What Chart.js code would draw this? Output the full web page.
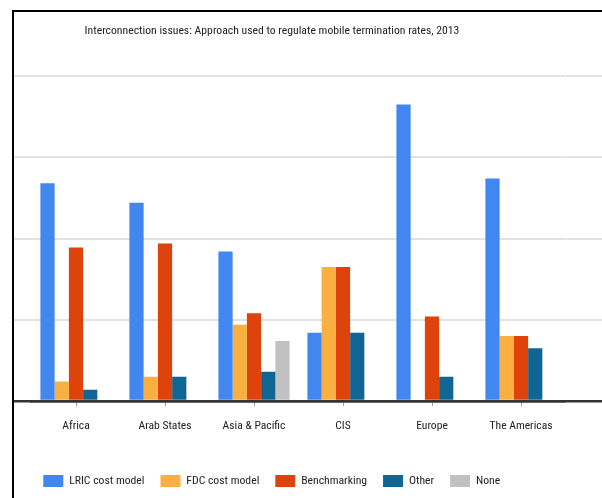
<!DOCTYPE html>
<html>
<head>
<meta charset="utf-8">
<script src="https://cdn.jsdelivr.net/npm/chart.js@4/dist/chart.umd.min.js"></script>
<style>
  html, body { margin: 0; padding: 0; background: #fff; }
  #wrap { position: relative; width: 602px; height: 498px; }
</style>
</head>
<body>
<div id="wrap"><canvas id="myChart"></canvas></div>
<script>
const FONT = "'Roboto Condensed', 'Liberation Sans Narrow', sans-serif";

const chartTitle = 'Interconnection issues: Approach used to regulate mobile termination rates, 2013';
const categories = ['Africa', 'Arab States', 'Asia & Pacific', 'CIS', 'Europe', 'The Americas'];
const seriesNames = ['LRIC cost model', 'FDC cost model', 'Benchmarking', 'Other', 'None'];
const lricValues = [26.8, 24.4, 18.4, 8.4, 36.5, 27.4];
const fdcValues = [2.4, 3.0, 9.4, 16.5, 0, 8.0];
const benchValues = [18.9, 19.4, 10.8, 16.5, 10.4, 8.0];
const otherValues = [1.4, 3.0, 3.6, 8.4, 3.0, 6.5];
const noneValues = [0, 0, 7.4, 0, 0, 0];
const yTicks = [0, 10, 20, 30, 40];

const colors = ['#4286f0', '#f9b041', '#de430c', '#0f6695', '#c1c1c1'];
const allValues = [lricValues, fdcValues, benchValues, otherValues, noneValues];

// gridline look, shared by the left and right y axes (their tick marks stretch the lines to the frame / edge)
const gridColor = (c) => c.tick && c.tick.value === 0 ? '#333' : '#e2e2e2';
const gridWidth = (c) => c.tick && c.tick.value === 0 ? 2.5 : 2;

// title + black frame are drawn by hand, the title is not centred on the canvas
const extrasPlugin = {
    id: 'extras',
    afterLayout(chart) {
        // legend sits a bit right of the frame in the original
        chart.legend.left += 13.3;
    },
    afterDraw(chart) {
        const ctx = chart.ctx;
        ctx.save();
        ctx.fillStyle = '#000';
        ctx.fillRect(12, 10, 2, chart.height - 10);   // left frame line
        ctx.fillRect(12, 10, chart.width - 12, 2);    // top frame line
        ctx.font = '11.7px ' + FONT;
        ctx.fillStyle = '#222';
        ctx.textAlign = 'center';
        ctx.textBaseline = 'middle';
        ctx.fillText(chartTitle, 272, 31);
        ctx.restore();
    }
};

const ctx = document.getElementById('myChart');

new Chart(ctx, {
    type: 'bar',
    data: {
        labels: categories,
        datasets: seriesNames.map((name, i) => ({
            label: name,
            data: allValues[i],
            backgroundColor: colors[i],
            borderWidth: 0
        }))
    },
    options: {
        responsive: true,
        maintainAspectRatio: false,
        animation: false,
        layout: { padding: { left: 14, right: 0, top: 76, bottom: 1 } },
        datasets: { bar: { categoryPercentage: 0.8, barPercentage: 1.0 } },
        plugins: {
            title: { display: false },
            tooltip: { enabled: false },
            legend: {
                position: 'bottom',
                align: 'start',
                labels: {
                    boxWidth: 20,
                    boxHeight: 12,
                    padding: 16,
                    color: '#222',
                    font: { family: FONT, size: 11.7 }
                }
            }
        },
        scales: {
            x: {
                grid: {
                    display: true,
                    offset: false,
                    drawOnChartArea: false,
                    drawTicks: true,
                    tickLength: 5,
                    color: '#999'
                },
                border: { display: true, color: '#333', width: 2.5 },
                ticks: {
                    color: '#222',
                    padding: 13,
                    maxRotation: 0,
                    autoSkip: false,
                    font: { family: FONT, size: 11.6 }
                },
                afterFit: (s) => { s.height = 58; }
            },
            y: {
                min: 0,
                max: 40,
                afterBuildTicks: (s) => { s.ticks = yTicks.map(v => ({ value: v })); },
                grid: { color: gridColor, lineWidth: gridWidth, drawTicks: true, tickLength: 17.5 },
                border: { display: false },
                ticks: { display: false },
                afterFit: (s) => { s.width = 17.5; }
            },
            y2: {
                position: 'right',
                min: 0,
                max: 40,
                afterBuildTicks: (s) => { s.ticks = yTicks.map(v => ({ value: v })); },
                grid: { color: gridColor, lineWidth: gridWidth, drawOnChartArea: false, drawTicks: true, tickLength: 36.5 },
                border: { display: false },
                ticks: { display: false },
                afterFit: (s) => { s.width = 36.5; }
            }
        }
    },
    plugins: [extrasPlugin]
});
</script>
</body>
</html>
